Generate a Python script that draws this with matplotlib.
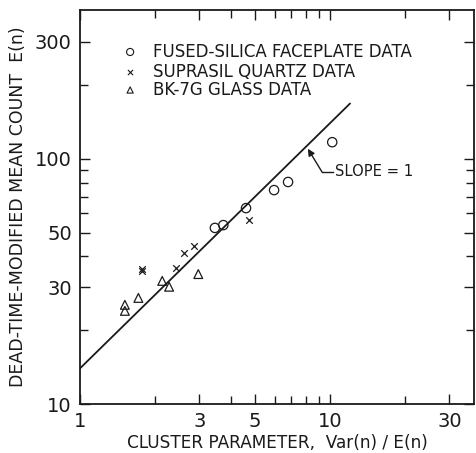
import matplotlib
matplotlib.use("Agg")
import matplotlib.pyplot as plt
from matplotlib.ticker import FixedLocator, FixedFormatter, NullFormatter
import numpy as np

# Data
fused_x = [3.46, 3.74, 4.61, 5.97, 6.79, 10.2]
fused_y = [52.3, 53.7, 63.0, 74.6, 80.5, 117.0]

suprasil_x = [1.77, 1.775, 2.42, 2.60, 2.86, 4.74]
suprasil_y = [35.0, 35.6, 35.9, 41.3, 44.2, 56.4]

bk7_x = [1.51, 1.51, 1.71, 2.13, 2.27, 2.97]
bk7_y = [25.4, 24.0, 27.1, 31.8, 30.1, 33.9]

slope_coef = 14.0
line_x = [1.0, 12.0]

x_major = [1, 3, 5, 10, 30]
x_minor = [2, 4, 6, 7, 8, 9, 20]
y_major = [10, 30, 50, 100, 300]
y_minor = [20, 40, 60, 70, 80, 90, 200]

legend_labels = ["FUSED-SILICA FACEPLATE DATA", "SUPRASIL QUARTZ DATA", "BK-7G GLASS DATA"]

ink = "#1a1a1a"
plt.rcParams['font.family'] = ['DejaVu Sans']

fig = plt.figure(figsize=(4.77, 4.53), dpi=100)
ax = fig.add_axes([0.168, 0.108, 0.826, 0.870])
ax.set_xscale("log")
ax.set_yscale("log")
ax.set_xlim(1, 37.7)
ax.set_ylim(10, 405)

lx = np.array(line_x)
ax.plot(lx, slope_coef * lx, color=ink, lw=1.3)

ax.scatter(fused_x, fused_y, s=45, marker="o", facecolors="none", edgecolors=ink, linewidths=0.9, zorder=3)
ax.scatter(suprasil_x, suprasil_y, s=22, marker="x", color=ink, linewidths=0.9, zorder=3)
ax.scatter(bk7_x, bk7_y, s=40, marker="^", facecolors="none", edgecolors=ink, linewidths=0.9, zorder=3)

# legend drawn as text rows
leg_markers = ["o", "x", "^"]
leg_sizes = [26, 14, 20]
rows_y = [52, 72, 90]
for mk, sz, lab, ry in zip(leg_markers, leg_sizes, legend_labels, rows_y):
    yf = 1 - (ry - 10) / 394.0
    xf = (130 - 80) / 394.0
    if mk == "x":
        ax.scatter([xf], [yf], s=sz, marker=mk, color=ink, linewidths=0.8, transform=ax.transAxes, clip_on=False)
    else:
        ax.scatter([xf], [yf], s=sz, marker=mk, facecolors="none", edgecolors=ink, linewidths=0.8, transform=ax.transAxes, clip_on=False)
    ax.text((153 - 80) / 394.0, yf, lab, transform=ax.transAxes, fontsize=12, color=ink, va="center", ha="left")

# SLOPE = 1 annotation
ax.text(10.47, 88.5, "SLOPE = 1", fontsize=10.6, color=ink, va="center", ha="left")
ax.plot([10.25, 9.28], [88.5, 88.5], color=ink, lw=1.0)
ax.annotate("", xy=(8.15, 110), xytext=(9.28, 88.5),
            arrowprops=dict(arrowstyle="-|>", color=ink, lw=1.0, shrinkA=0, shrinkB=0, mutation_scale=10))

for axis, maj, mnr in ((ax.xaxis, x_major, x_minor), (ax.yaxis, y_major, y_minor)):
    axis.set_major_locator(FixedLocator(maj))
    axis.set_major_formatter(FixedFormatter([str(v) for v in maj]))
    axis.set_minor_locator(FixedLocator(mnr))
    axis.set_minor_formatter(NullFormatter())

ax.tick_params(which="both", direction="in", top=True, right=True, color=ink, width=1.0)
ax.tick_params(which="major", length=7, labelsize=14, labelcolor=ink)
ax.tick_params(which="minor", length=6)
ax.tick_params(axis="x", which="major", pad=6)
ax.tick_params(axis="y", which="major", pad=6)

for sp in ax.spines.values():
    sp.set_color(ink)
    sp.set_linewidth(1.3)

ax.set_xlabel("CLUSTER PARAMETER,  Var(n) / E(n)", fontsize=12.2, color=ink, labelpad=2)
ax.set_ylabel("DEAD-TIME-MODIFIED MEAN COUNT  E(n)", fontsize=12.5, color=ink, labelpad=6)

fig.savefig("out.png", dpi=100)
